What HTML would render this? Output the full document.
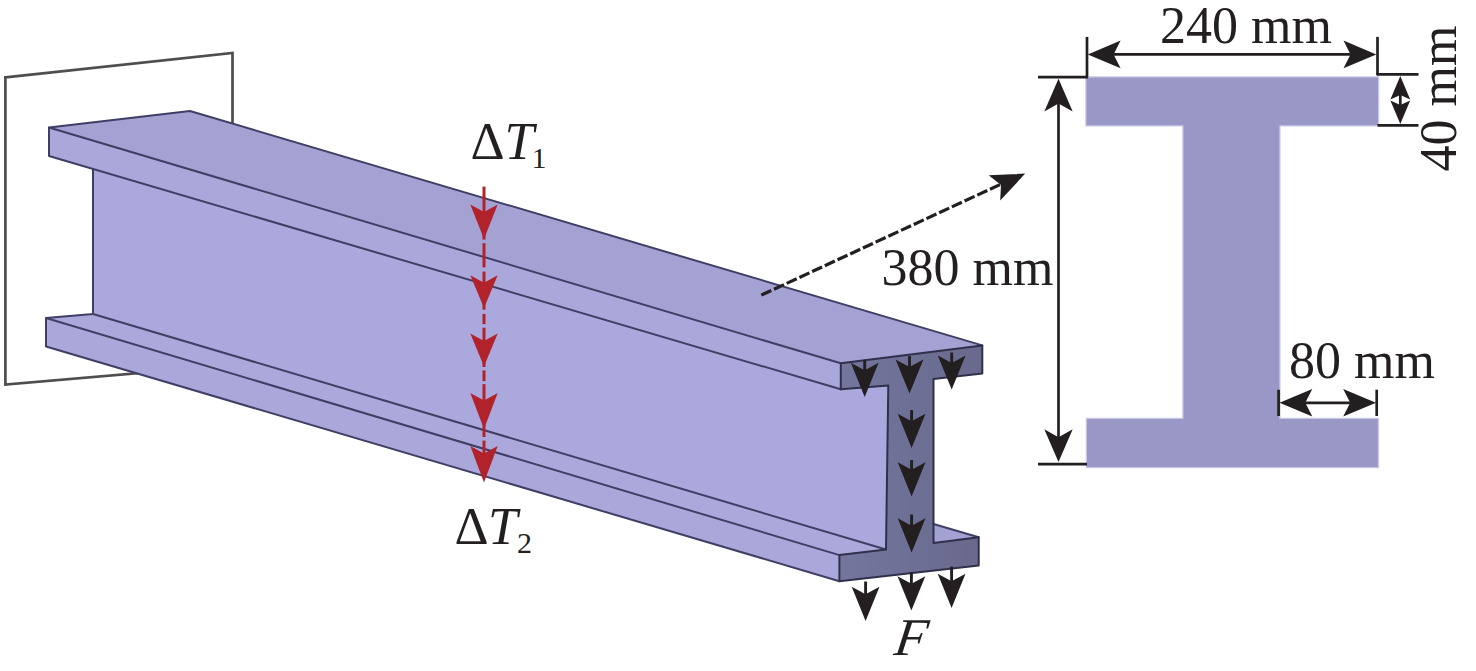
<!DOCTYPE html>
<html><head><meta charset="utf-8">
<style>
html,body{margin:0;padding:0;background:#fff;}
body{width:1476px;height:671px;overflow:hidden;}
svg{display:block;}
text{font-family:"Liberation Serif",serif;fill:#231f20;}
</style></head><body>
<svg width="1476" height="671" viewBox="0 0 1476 671">
<defs><linearGradient id="eg" gradientUnits="userSpaceOnUse" x1="840" y1="0" x2="982" y2="0"><stop offset="0" stop-color="#74769e"/><stop offset="1" stop-color="#68698c"/></linearGradient></defs>
<polygon points="5.4,77.3 232.5,52.9 232.5,365 5.4,384.6" fill="none" stroke="#4f4d4f" stroke-width="2.7"/>
<g stroke="none">
<polygon points="49,127.5 190,111 982.3,345.4 840.8,363.3" fill="#a4a2d3"/>
<polygon points="49,127.5 840.8,363.3 840.8,389.3 49,156" fill="#aaa8da"/>
<polygon points="93,169 840.8,389.3 888.3,385.5 886,549.5 93,314" fill="#aaa8dc"/>
<polygon points="46,318 93,314 886,549.5 839.4,555.1" fill="#aba9db"/>
<polygon points="46,318 839.4,555.1 839.4,581.2 46,346.5" fill="#aaa8da"/>
<polygon points="933.5,524 978.7,537.3 933.5,543" fill="#a4a2d3"/>
<polygon points="840.8,363.3 982.3,345.4 982.3,373.6 933.5,379 933.5,543 978.7,537.3 978.7,565.6 839.4,581.2 839.4,555.1 886,549.5 888.3,385.5 840.8,389.3" fill="url(#eg)"/>
</g>
<g stroke="#3f3f66" stroke-width="2" fill="none" stroke-linecap="round" stroke-linejoin="round">
<polyline points="840.8,363.3 49,127.5 190,111 982.3,345.4"/>
<polyline points="49,127.5 49,156 840.8,389.3"/>
<polyline points="93,169 93,314 46,318 46,346.5 839.4,581.2"/>
<line x1="93" y1="314" x2="886" y2="549.5"/>
<line x1="46" y1="318" x2="839.4" y2="555.1"/>
<line x1="933.5" y1="524" x2="978.7" y2="537.3"/>
<polygon points="840.8,363.3 982.3,345.4 982.3,373.6 933.5,379 933.5,543 978.7,537.3 978.7,565.6 839.4,581.2 839.4,555.1 886,549.5 888.3,385.5 840.8,389.3" stroke="#30304c"/>
</g>
<g stroke="#b2222b" stroke-width="3"><line x1="484" y1="186.6" x2="484" y2="239.6"/><line x1="484" y1="243.2" x2="484" y2="267.4"/><line x1="484" y1="271.6" x2="484" y2="309.7"/><line x1="484" y1="313.9" x2="484" y2="324.1"/><line x1="484" y1="327.7" x2="484" y2="367"/><line x1="484" y1="370.4" x2="484" y2="381.1"/><line x1="484" y1="384.1" x2="484" y2="437"/><line x1="484" y1="440.6" x2="484" y2="470"/></g>
<g fill="#b2222b"><path d="M484,239 L470.3,204.4 L484,211.9 L497.7,204.4 Z"/><path d="M484,308 L470.3,275.2 L484,282.7 L497.7,275.2 Z"/><path d="M484,366.5 L470.3,333.6 L484,341.1 L497.7,333.6 Z"/><path d="M484,429 L470.3,393 L484,400.5 L497.7,393 Z"/><path d="M484,482.5 L470.3,446 L484,453.5 L497.7,446 Z"/></g>
<g fill="#231f20" stroke="#231f20" stroke-width="2.9"><line x1="864.7" y1="359.8" x2="864.7" y2="371.3"/><path stroke="none" d="M864.7,397 L850.8000000000001,362.8 L864.7,370.3 L878.6,362.8 Z"/><line x1="909.5" y1="356.1" x2="909.5" y2="367.90000000000003"/><path stroke="none" d="M909.5,393.6 L895.6,359.40000000000003 L909.5,366.90000000000003 L923.4,359.40000000000003 Z"/><line x1="951.7" y1="352.5" x2="951.7" y2="363.90000000000003"/><path stroke="none" d="M951.7,389.6 L937.8000000000001,355.40000000000003 L951.7,362.90000000000003 L965.6,355.40000000000003 Z"/><line x1="911.6" y1="410" x2="911.6" y2="422.3"/><path stroke="none" d="M911.6,448 L897.7,413.8 L911.6,421.3 L925.5,413.8 Z"/><line x1="911.6" y1="460" x2="911.6" y2="470.8"/><path stroke="none" d="M911.6,496.5 L897.7,462.3 L911.6,469.8 L925.5,462.3 Z"/><line x1="911.6" y1="514.5" x2="911.6" y2="526.8"/><path stroke="none" d="M911.6,552.5 L897.7,518.3 L911.6,525.8 L925.5,518.3 Z"/><line x1="865.6" y1="581.5" x2="865.6" y2="595.3"/><path stroke="none" d="M865.6,621 L851.7,586.8 L865.6,594.3 L879.5,586.8 Z"/><line x1="911.4" y1="572" x2="911.4" y2="584.8"/><path stroke="none" d="M911.4,610.5 L897.5,576.3 L911.4,583.8 L925.3,576.3 Z"/><line x1="951.6" y1="566.6" x2="951.6" y2="582.3"/><path stroke="none" d="M951.6,608 L937.7,573.8 L951.6,581.3 L965.5,573.8 Z"/></g>
<line x1="761.3" y1="295.1" x2="1000" y2="184.6" stroke="#231f20" stroke-width="3.2" stroke-dasharray="11,3"/>
<path d="M1025.2,173.6 L988.7,175.3 L1001,185 L1000.2,200.6 Z" fill="#231f20"/>
<path d="M1086.5,77.5 H1378 V125.3 H1279.3 V419 H1377.8 V467 H1087 V419 H1183.5 V125.3 H1086.5 Z" fill="none" stroke="#cac8e3" stroke-width="2.6"/>
<path d="M1086.5,77.5 H1378 V125.3 H1279.3 V419 H1377.8 V467 H1087 V419 H1183.5 V125.3 H1086.5 Z" fill="#9997c6"/>
<g stroke="#231f20" stroke-width="2.7" fill="none">
<line x1="1038" y1="77.2" x2="1088" y2="77.2"/>
<line x1="1087" y1="36.9" x2="1087" y2="77.2"/>
<line x1="1377.5" y1="36.9" x2="1377.5" y2="75"/>
<line x1="1376.5" y1="74.4" x2="1418.5" y2="74.4"/>
<line x1="1377.5" y1="125.3" x2="1418.5" y2="125.3"/>
<line x1="1100" y1="54.4" x2="1365" y2="54.4"/>
<line x1="1058.5" y1="100" x2="1058.5" y2="440"/>
<line x1="1038" y1="464.2" x2="1087" y2="464.2"/>
<line x1="1278.6" y1="389.7" x2="1278.6" y2="416"/>
<line x1="1376.7" y1="389.7" x2="1376.7" y2="416"/>
<line x1="1290" y1="402.8" x2="1365" y2="402.8"/>
<line x1="1400.3" y1="85" x2="1400.3" y2="115"/>
</g>
<g fill="#231f20"><path transform="translate(1087.8,54.4) rotate(90) scale(1,1)" d="M0,0 L-13.8,-32.8 L0,-25.799999999999997 L13.8,-32.8 Z"/><path transform="translate(1376.3,54.4) rotate(-90) scale(1,1)" d="M0,0 L-13.8,-32.8 L0,-25.799999999999997 L13.8,-32.8 Z"/><path transform="translate(1058.5,78.8) rotate(180) scale(1,1)" d="M0,0 L-14.2,-32.8 L0,-24.799999999999997 L14.2,-32.8 Z"/><path transform="translate(1058.5,462) rotate(0) scale(1,1)" d="M0,0 L-14.2,-32.8 L0,-24.799999999999997 L14.2,-32.8 Z"/><path transform="translate(1279.5,402.8) rotate(90) scale(1,1)" d="M0,0 L-13.8,-32.8 L0,-25.799999999999997 L13.8,-32.8 Z"/><path transform="translate(1376,402.8) rotate(-90) scale(1,1)" d="M0,0 L-13.8,-32.8 L0,-25.799999999999997 L13.8,-32.8 Z"/><path transform="translate(1400.3,76) rotate(180) scale(1,1)" d="M0,0 L-9.9,-23.5 L0,-19.0 L9.9,-23.5 Z"/><path transform="translate(1400.3,124) rotate(0) scale(1,1)" d="M0,0 L-9.9,-23.5 L0,-19.0 L9.9,-23.5 Z"/></g>
<text x="1160" y="43.4" font-size="52">240 mm</text>
<text x="881.5" y="285.4" font-size="52">380 mm</text>
<text x="1289" y="377.8" font-size="52">80 mm</text>
<text transform="translate(1456,171.5) rotate(-90)" font-size="52">40 mm</text>
<text x="470.5" y="158.5" font-size="53">Δ<tspan font-style="italic" dx="0">T</tspan><tspan font-size="30" dy="9" dx="-2.5">1</tspan></text>
<text x="454.5" y="543.6" font-size="53">Δ<tspan font-style="italic" dx="-0.5">T</tspan><tspan font-size="30" dy="9" dx="-0.5">2</tspan></text>
<text transform="translate(893,654.8) skewX(-8)" font-size="53" font-style="italic">F</text>
</svg>
</body></html>
